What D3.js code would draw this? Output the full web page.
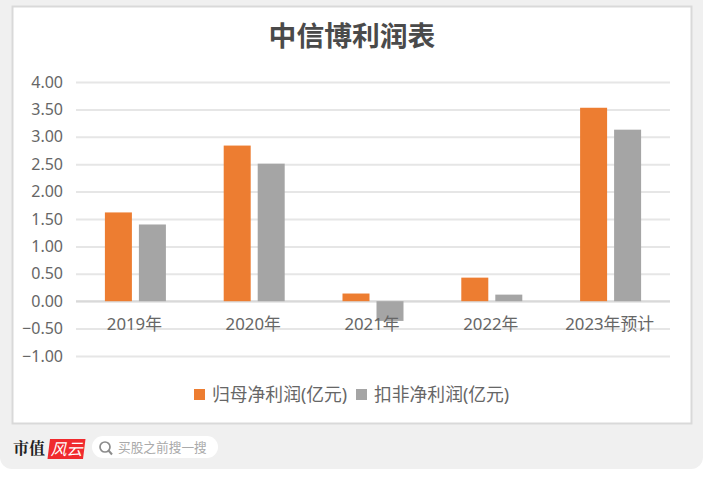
<!DOCTYPE html>
<html>
<head>
<meta charset="utf-8">
<script src="https://cdn.jsdelivr.net/npm/d3@7"></script>
<style>
  html, body { margin: 0; padding: 0; background: #fff; }
  svg { display: block; }
  svg text { font-family: "Noto Sans", "Noto Sans CJK SC", sans-serif; }
</style>
</head>
<body>
<div id="chart"></div>
<script>
const categories = ['2019年', '2020年', '2021年', '2022年', '2023年预计'];
const seriesNames = ['归母净利润(亿元)', '扣非净利润(亿元)'];
const guimu = [1.62, 2.84, 0.14, 0.43, 3.53];
const koufei = [1.40, 2.51, -0.36, 0.12, 3.13];
const yTicks = [4, 3.5, 3, 2.5, 2, 1.5, 1, 0.5, 0, -0.5, -1];

const colors = ['#ed7d31', '#a5a5a5'];
const labelColor = '#666';
const svgWidth = 703;
const svgHeight = 477;
const plot = {left: 76, right: 670, top: 82, bottom: 356};

const svg = d3.select('#chart')
            .append('svg')
            .attr('width', svgWidth)
            .attr('height', svgHeight);

// grey page panel, rounded at the bottom only
svg.append('path')
    .attr('d', `M0,0H${svgWidth}V457a12,12 0 0 1 -12,12H12a12,12 0 0 1 -12,-12Z`)
    .attr('fill', '#f0f0f0');

svg.append('rect')
    .attr('x', 12.5).attr('y', 6.5)
    .attr('width', 679).attr('height', 417)
    .attr('fill', '#fff')
    .attr('stroke', '#d9d9d9')
    .attr('stroke-width', 2);

svg.append('text')
    .attr('x', 352).attr('y', 46)
    .attr('text-anchor', 'middle')
    .attr('font-size', 27.8)
    .attr('font-weight', 700)
    .attr('fill', '#4a4a4a')
    .text('中信博利润表');

const x = d3.scaleBand()
            .domain(categories)
            .range([plot.left, plot.right]);
const xInner = d3.scaleBand()
            .domain([0, 1])
            .range([x.bandwidth() / 2 - 30.5, x.bandwidth() / 2 + 30.5])
            .paddingInner(0.206);
const y = d3.scaleLinear()
            .domain([-1, 4])
            .range([plot.bottom, plot.top]);

// gridlines from the axis ticks
const yAxis = svg.append('g')
    .attr('transform', `translate(${plot.left},0)`)
    .call(d3.axisLeft(y).tickValues(yTicks).tickFormat(d3.format('.2f')).tickSize(-(plot.right - plot.left)).tickPadding(13));
yAxis.select('.domain').remove();
yAxis.selectAll('line').attr('stroke', '#e6e6e6').attr('stroke-width', 2);
yAxis.selectAll('text').attr('font-size', 16).attr('fill', labelColor).style('font-family', '"Noto Sans", sans-serif');

// zero line sits a bit darker than the grid
svg.append('line')
    .attr('x1', plot.left).attr('x2', plot.right)
    .attr('y1', y(0)).attr('y2', y(0))
    .attr('stroke', '#d9d9d9')
    .attr('stroke-width', 2);

[guimu, koufei].forEach((values, s) => {
    svg.append('g').selectAll('rect').data(values).enter()
        .append('rect')
        .attr('x', (d, i) => x(categories[i]) + xInner(s))
        .attr('y', d => y(Math.max(d, 0)))
        .attr('width', xInner.bandwidth())
        .attr('height', d => Math.abs(y(d) - y(0)))
        .attr('fill', colors[s]);
});

// category labels stay just under zero, on top of the negative bar
svg.append('g').selectAll('text').data(categories).enter()
    .append('text')
    .attr('x', d => x(d) + x.bandwidth() / 2 - 1)
    .attr('y', 330)
    .attr('text-anchor', 'middle')
    .attr('font-size', 16.8)
    .attr('fill', labelColor)
    .text(d => d);

// legend
const legendX = [194, 356];
seriesNames.forEach((name, i) => {
    svg.append('rect')
        .attr('x', legendX[i]).attr('y', 389)
        .attr('width', 11).attr('height', 11)
        .attr('fill', colors[i]);
    svg.append('text')
        .attr('x', legendX[i] + 18).attr('y', 401)
        .attr('font-size', 17.8)
        .attr('fill', labelColor)
        .text(name);
});

// footer brand and search box
svg.append('text')
    .attr('x', 13).attr('y', 454)
    .attr('font-size', 16)
    .attr('font-weight', 700)
    .attr('fill', '#222')
    .style('font-family', '"Noto Serif CJK SC", "Noto Sans CJK SC", serif')
    .text('市值');
svg.append('path')
    .attr('d', 'M50,439H85.5L83,459H47.5Z')
    .attr('fill', '#f02a2e');
svg.append('text')
    .attr('x', 66.5).attr('y', 454.5)
    .attr('text-anchor', 'middle')
    .attr('font-size', 16)
    .attr('font-style', 'italic')
    .attr('fill', '#fff')
    .text('风云');
svg.append('rect')
    .attr('x', 92).attr('y', 436)
    .attr('width', 126).attr('height', 22)
    .attr('rx', 11)
    .attr('fill', '#fff');
svg.append('circle')
    .attr('cx', 105).attr('cy', 447)
    .attr('r', 5)
    .attr('fill', 'none')
    .attr('stroke', '#8c8c8c')
    .attr('stroke-width', 1.7);
svg.append('line')
    .attr('x1', 108.5).attr('y1', 450.5)
    .attr('x2', 112).attr('y2', 454.5)
    .attr('stroke', '#8c8c8c')
    .attr('stroke-width', 2);
svg.append('text')
    .attr('x', 118).attr('y', 452)
    .attr('font-size', 12.7)
    .attr('fill', '#aaa')
    .text('买股之前搜一搜');
</script>
</body>
</html>
